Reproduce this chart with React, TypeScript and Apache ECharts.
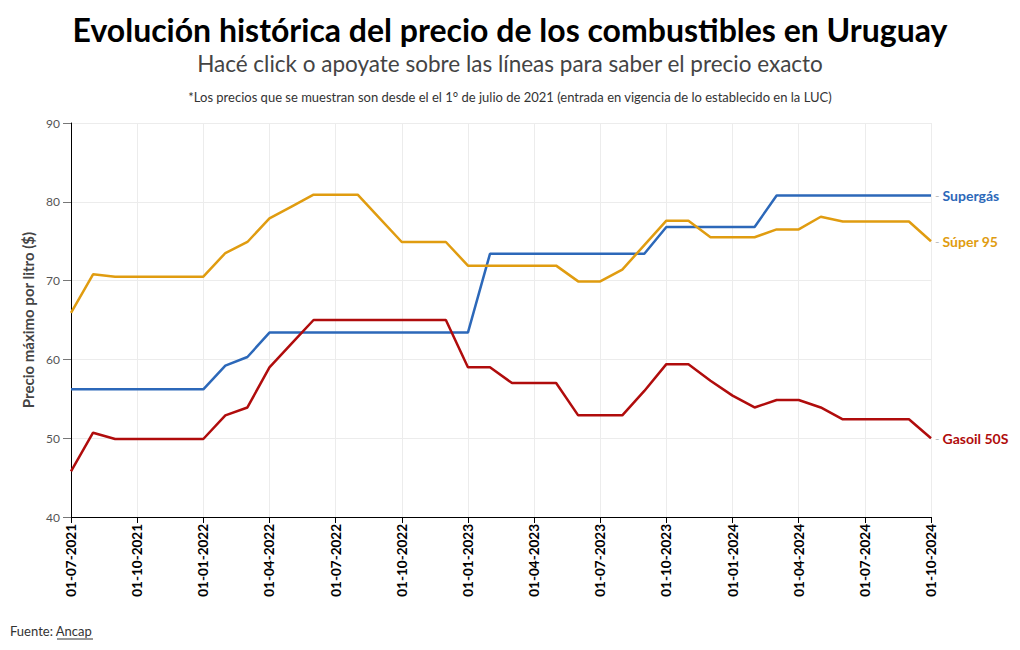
import React, { useEffect, useRef } from "react";
import * as echarts from "echarts";

const dates = [
  "01-07-2021", "01-08-2021", "01-09-2021", "01-10-2021", "01-11-2021", "01-12-2021",
  "01-01-2022", "01-02-2022", "01-03-2022", "01-04-2022", "01-05-2022", "01-06-2022",
  "01-07-2022", "01-08-2022", "01-09-2022", "01-10-2022", "01-11-2022", "01-12-2022",
  "01-01-2023", "01-02-2023", "01-03-2023", "01-04-2023", "01-05-2023", "01-06-2023",
  "01-07-2023", "01-08-2023", "01-09-2023", "01-10-2023", "01-11-2023", "01-12-2023",
  "01-01-2024", "01-02-2024", "01-03-2024", "01-04-2024", "01-05-2024", "01-06-2024",
  "01-07-2024", "01-08-2024", "01-09-2024", "01-10-2024",
];

const super95 = [
  65.9, 70.8, 70.5, 70.5, 70.5, 70.5,
  70.5, 73.5, 74.9, 77.9, 79.4, 80.9,
  80.9, 80.9, 77.9, 74.9, 74.9, 74.9,
  71.9, 71.9, 71.9, 71.9, 71.9, 69.9,
  69.9, 71.4, 74.5, 77.6, 77.6, 75.5,
  75.5, 75.5, 76.5, 76.5, 78.1, 77.5,
  77.5, 77.5, 77.5, 75.0,
];

const supergas = [
  56.2, 56.2, 56.2, 56.2, 56.2, 56.2,
  56.2, 59.2, 60.3, 63.4, 63.4, 63.4,
  63.4, 63.4, 63.4, 63.4, 63.4, 63.4,
  63.4, 73.4, 73.4, 73.4, 73.4, 73.4,
  73.4, 73.4, 73.4, 76.8, 76.8, 76.8,
  76.8, 76.8, 80.8, 80.8, 80.8, 80.8,
  80.8, 80.8, 80.8, 80.8,
];

const gasoil = [
  45.8, 50.7, 49.9, 49.9, 49.9, 49.9,
  49.9, 52.9, 53.9, 59.0, 62.0, 65.0,
  65.0, 65.0, 65.0, 65.0, 65.0, 65.0,
  59.0, 59.0, 57.0, 57.0, 57.0, 52.9,
  52.9, 52.9, 56.0, 59.4, 59.4, 57.3,
  55.4, 53.9, 54.85, 54.85, 53.9, 52.4,
  52.4, 52.4, 52.4, 50.0,
];

const seriesNames = ["Supergás", "Súper 95", "Gasoil 50S"];
const seriesColors = ["#2c68b9", "#e09c10", "#b00c0c"];

const FONT = "Lato, 'Noto Sans', sans-serif";

export default function App() {
  const ref = useRef<HTMLDivElement>(null);

  useEffect(() => {
    if (!ref.current) return;
    const chart = echarts.init(ref.current, undefined, { renderer: "svg" });
    const values = [supergas, super95, gasoil];
    chart.setOption({
      animation: false,
      textStyle: { fontFamily: FONT },
      title: [
        {
          text: "Evolución histórica del precio de los combustibles en Uruguay",
          left: "center",
          top: 8,
          textStyle: { fontSize: 32, fontWeight: "bold", color: "#000", fontFamily: FONT },
        },
        {
          text: "Hacé click o apoyate sobre las líneas para saber el precio exacto",
          left: "center",
          top: 47,
          textStyle: { fontSize: 22.5, fontWeight: "normal", color: "#444", fontFamily: FONT },
        },
        {
          text: "*Los precios que se muestran son desde el el 1° de julio de 2021 (entrada en vigencia de lo establecido en la LUC)",
          left: "center",
          top: 85,
          textStyle: { fontSize: 13, fontWeight: "normal", color: "#333", fontFamily: FONT },
        },
        {
          text: "Fuente: Ancap",
          left: 5,
          top: 619,
          textStyle: { fontSize: 13, fontWeight: "normal", color: "#333", fontFamily: FONT },
        },
      ],
      graphic: [
        {
          type: "line",
          shape: { x1: 57, y1: 639, x2: 93, y2: 639 },
          style: { stroke: "#333", lineWidth: 1 },
        },
      ],
      grid: { left: 71, right: 89, top: 123, bottom: 133, containLabel: false },
      xAxis: {
        type: "category",
        data: dates,
        boundaryGap: false,
        axisLine: { show: true, lineStyle: { color: "#000", width: 1 } },
        axisTick: { show: true, interval: 2, length: 6, lineStyle: { color: "#000" } },
        axisLabel: {
          interval: 2,
          rotate: 90,
          fontSize: 13.5,
          fontWeight: "bold",
          color: "#000",
          margin: 7,
          fontFamily: FONT,
        },
        splitLine: { show: true, interval: 2, lineStyle: { color: "#ececec", width: 1 } },
      },
      yAxis: {
        type: "value",
        min: 40,
        max: 90,
        interval: 10,
        name: "Precio máximo por litro ($)",
        nameLocation: "middle",
        nameGap: 35,
        nameRotate: 90,
        nameTextStyle: { fontSize: 15, fontWeight: "bold", color: "#444", fontFamily: FONT },
        axisLine: { show: true, lineStyle: { color: "#000", width: 1 } },
        axisTick: { show: true, length: 8, lineStyle: { color: "#777" } },
        axisLabel: { fontSize: 12, color: "#555", margin: 11, fontFamily: FONT },
        splitLine: { show: true, lineStyle: { color: "#ececec", width: 1 } },
      },
      series: seriesNames.map((name, i) => ({
        name,
        type: "line",
        data: values[i],
        showSymbol: false,
        symbol: "none",
        lineStyle: { color: seriesColors[i], width: 2.5 },
        itemStyle: { color: seriesColors[i] },
        endLabel: {
          show: true,
          formatter: () => `{d|-} {n|${name}}`,
          distance: 4,
          rich: {
            d: { color: "#bbb", fontSize: 12, fontFamily: FONT },
            n: { color: seriesColors[i], fontSize: 14, fontWeight: "bold", fontFamily: FONT },
          },
        },
      })),
    });
    return () => chart.dispose();
  }, []);

  return <div ref={ref} style={{ width: 1020, height: 650, position: "absolute", left: 0, top: 0 }} />;
}
